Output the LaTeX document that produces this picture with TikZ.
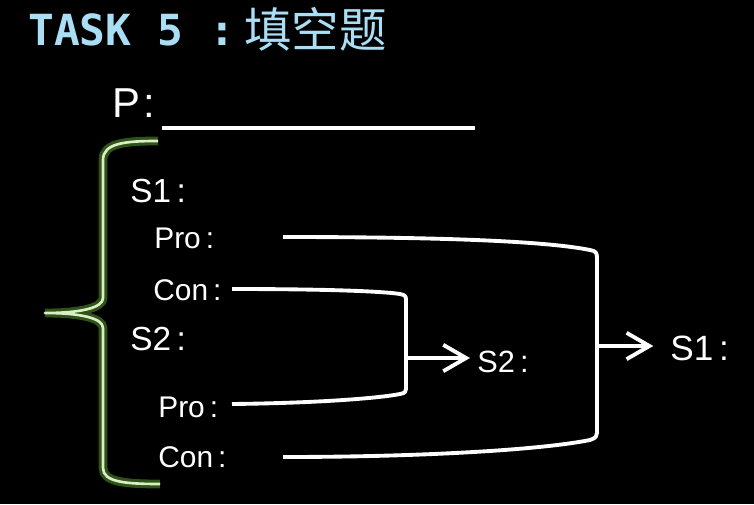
\documentclass[tikz,border=0pt]{standalone}
\usepackage{fontspec}
\setmainfont{Liberation Sans}
\newfontfamily\titlemono{DejaVu Sans Mono}
\newfontfamily\cjk{Noto Sans CJK SC}
\usetikzlibrary{positioning}
\usetikzlibrary{arrows.meta}
\definecolor{titleblue}{RGB}{170,222,245}
\definecolor{bracegreen}{RGB}{218,238,198}
\definecolor{braceglow}{RGB}{86,150,44}

\begin{document}
\begin{tikzpicture}[x=0.02cm, y=-0.02cm,
			label/.style={anchor=base west, inner sep=0pt, text=white},
			wire/.style={draw=white, line width=2.2pt, line join=round},
			arrowline/.style={wire, -{Straight Barb[length=13pt, width=15pt]}},
			brace/.style={draw=bracegreen, line width=1.5pt, line join=round,
				preaction={draw=braceglow, line width=5pt, opacity=0.55}}
			]
			
			\fill[black] (0,0) rectangle (754,504);
			\useasboundingbox (0,0) rectangle (754,504);
			
			\node[label, text=titleblue, font=\titlemono\bfseries\fontsize{24.4}{28}\selectfont] at (28, 45) (task) {TASK 5 :};
			\node[label, text=titleblue, font=\cjk\fontsize{27}{30}\selectfont] at (244, 47) (topic) {填空题};
			\node[label, font=\fontsize{23.8}{28}\selectfont] at (112, 117) (p) {P\kern2pt:};
			\draw[white, line width=2.8pt] (162, 128) -- (475, 128);
			
			\node[label, font=\fontsize{19}{22}\selectfont] at (130, 202) (s1) {S1\,:};
			\node[label, font=\fontsize{17}{20}\selectfont] at (154, 248) (pro1) {Pro\,:};
			\node[label, font=\fontsize{17}{20}\selectfont] at (153, 300) (con1) {Con\,:};
			\node[label, font=\fontsize{19}{22}\selectfont] at (130, 350) (s2) {S2\,:};
			\node[label, font=\fontsize{17}{20}\selectfont] at (158, 417) (pro2) {Pro\,:};
			\node[label, font=\fontsize{17}{20}\selectfont] at (158, 467) (con2) {Con\,:};
			\node[label, font=\fontsize{17.5}{20}\selectfont] at (477, 372) (out2) {S2\,:};
			\node[label, font=\fontsize{20}{24}\selectfont] at (670, 360) (out1) {S1\,:};
			
			\coordinate (a1) at (283, 237);
			\coordinate (a2) at (232, 289);
			\coordinate (b1) at (232, 404);
			\coordinate (b2) at (283, 457);
			\coordinate (j2) at (406, 358);
			\coordinate (j1) at (597, 346);
			
			\draw[brace] (158, 141) .. controls (125, 141) and (103, 143) .. (103, 160) -- (103, 298)
				.. controls (103, 308) and (80, 313) .. (45, 313)
				.. controls (80, 313) and (103, 318) .. (103, 328) -- (103, 468)
				.. controls (103, 482) and (125, 484) .. (160, 484);
			
			\draw[wire] (a1) .. controls (420, 237) and (540, 240) .. (590, 250)
				.. controls (596, 251) and (597, 253) .. (597, 258) -- (597, 433)
				.. controls (597, 436) and (596, 438) .. (590, 440)
				.. controls (540, 450) and (420, 457) .. (b2);
			\draw[wire] (a2) .. controls (320, 289) and (380, 291) .. (400, 294)
				.. controls (405, 295) and (406, 296) .. (406, 300) -- (406, 389)
				.. controls (406, 392) and (405, 393) .. (400, 394)
				.. controls (380, 398) and (320, 403) .. (b1);
			
			\draw[arrowline, shorten >=4pt] (j2) -- (j2 -| out2.west);
			\draw[arrowline, shorten >=9.5pt] (j1) -- (j1 -| out1.west);
		\end{tikzpicture}
\end{document}
